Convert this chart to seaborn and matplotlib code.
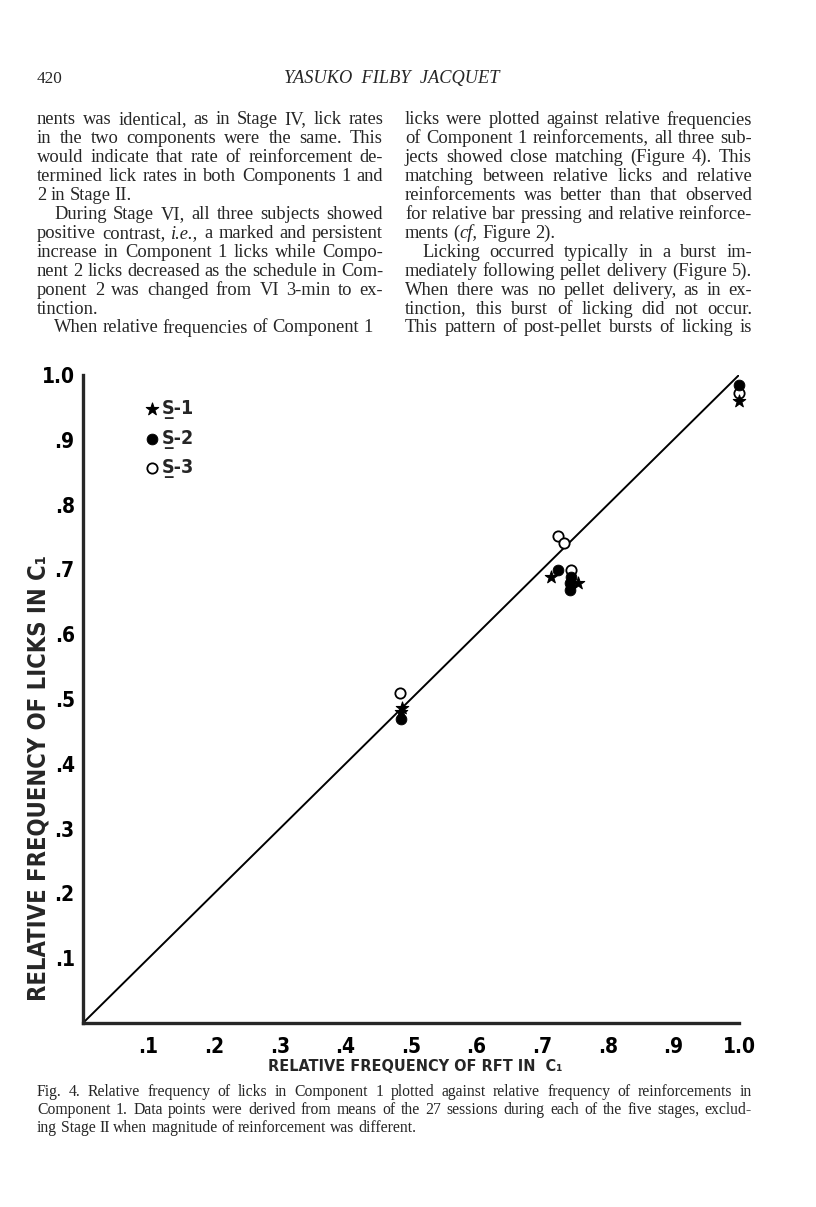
import matplotlib
matplotlib.use('Agg')
import matplotlib.pyplot as plt
from matplotlib import font_manager
import seaborn as sns

# relative frequency of RFT in C1 (x) and relative frequency of licks in C1 (y)
s1_rft = [0.485, 0.487, 0.713, 0.755, 1.0]
s1_licks = [0.480, 0.486, 0.688, 0.679, 0.960]
s2_rft = [0.485, 0.724, 0.744, 0.742, 0.742, 1.0]
s2_licks = [0.469, 0.699, 0.688, 0.679, 0.668, 0.985]
s3_rft = [0.483, 0.724, 0.733, 0.744, 1.0]
s3_licks = [0.509, 0.752, 0.741, 0.699, 0.972]
matching = [0.0, 1.0]

tick_vals = [.1, .2, .3, .4, .5, .6, .7, .8, .9, 1.0]
tick_labels = ['.1', '.2', '.3', '.4', '.5', '.6', '.7', '.8', '.9', '1.0']

left_col = [
    "nents was identical, as in Stage IV, lick rates",
    "in the two components were the same. This",
    "would indicate that rate of reinforcement de-",
    "termined lick rates in both Components 1 and",
    "2 in Stage II.",
    "  During Stage VI, all three subjects showed",
    "positive contrast, *i.e., a marked and persistent",
    "increase in Component 1 licks while Compo-",
    "nent 2 licks decreased as the schedule in Com-",
    "ponent 2 was changed from VI 3-min to ex-",
    "tinction.",
    "  When relative frequencies of Component 1",
]
right_col = [
    "licks were plotted against relative frequencies",
    "of Component 1 reinforcements, all three sub-",
    "jects showed close matching (Figure 4). This",
    "matching between relative licks and relative",
    "reinforcements was better than that observed",
    "for relative bar pressing and relative reinforce-",
    "ments (*cf, Figure 2).",
    "  Licking occurred typically in a burst im-",
    "mediately following pellet delivery (Figure 5).",
    "When there was no pellet delivery, as in ex-",
    "tinction, this burst of licking did not occur.",
    "This pattern of post-pellet bursts of licking is",
]
caption = [
    "Fig. 4. Relative frequency of licks in Component 1 plotted against relative frequency of reinforcements in",
    "Component 1. Data points were derived from means of the 27 sessions during each of the five stages, exclud-",
    "ing Stage II when magnitude of reinforcement was different.",
]
# lines that end a paragraph are not justified
left_last = {4, 10, 11}
right_last = {6}
cap_last = {2}

sns.set_style('white')

# condensed bold sans for the figure lettering (falls back to Roboto bold)
cond = dict(family='Roboto', weight='bold')
for f in font_manager.fontManager.ttflist:
    w = f.weight if isinstance(f.weight, int) else font_manager.weight_dict.get(f.weight, 400)
    if w >= 600 and ('ondensed' in f.name or 'Narrow' in f.name or 'condensed' in str(f.stretch)):
        cond = dict(fname=f.fname)
        break

W, H = 816, 1207
fig = plt.figure(figsize=(W / 100, H / 100), dpi=100)
renderer = fig.canvas.get_renderer()
serif = 'Liberation Serif'


def put_line(text, x0, y, width, justify, size):
    indent = 0
    if text.startswith('  '):
        indent = 17
        text = text.strip()
    groups = []
    for word in text.split(' '):
        parts = word.split('*')
        grp = []
        for k, p in enumerate(parts):
            if p:
                t = fig.text(0, 1 - y / H, p, family=serif, size=size,
                             style='italic' if k > 0 else 'normal', va='center', ha='left')
                grp.append((t, t.get_window_extent(renderer).width))
        groups.append(grp)
    widths = [sum(w for _, w in g) for g in groups]
    if justify and len(groups) > 1:
        gap = (width - indent - sum(widths)) / (len(groups) - 1)
    else:
        gap = size * 0.33
    x = x0 + indent
    for g in groups:
        for t, w in g:
            t.set_x(x / W)
            x += w
        x += gap


for i, s in enumerate(left_col):
    put_line(s, 37, 120 + i * 18.9, 346, i not in left_last, 13.3)
for i, s in enumerate(right_col):
    put_line(s, 405, 120 + i * 18.9, 347, i not in right_last, 13.3)
for i, s in enumerate(caption):
    put_line(s, 37, 1092 + i * 18, 715, i not in cap_last, 11.3)

fig.text(37 / W, 1 - 79 / H, '420', family=serif, size=12.4, va='center')
fig.text(392 / W, 1 - 79 / H, 'YASUKO  FILBY  JACQUET', family=serif,
         style='italic', size=13.2, va='center', ha='center')

ax = fig.add_axes([83 / W, 184 / H, 656 / W, 648 / H])

sns.lineplot(x=matching, y=matching, color='black', lw=1.4, ax=ax)
sns.scatterplot(x=s3_rft, y=s3_licks, marker='o', s=55, facecolor='white',
                edgecolor='black', linewidth=1.3, label='S\u0332-3', ax=ax, zorder=3, clip_on=False)
sns.scatterplot(x=s2_rft, y=s2_licks, marker='o', s=60, color='black',
                edgecolor='black', label='S\u0332-2', ax=ax, zorder=4, clip_on=False)
sns.scatterplot(x=s1_rft, y=s1_licks, marker='*', s=90, color='black',
                edgecolor='black', label='S\u0332-1', ax=ax, zorder=5, clip_on=False)

ax.set_xlim(0, 1)
ax.set_ylim(0, 1)
sns.despine(ax=ax)
for side in ['left', 'bottom']:
    ax.spines[side].set_linewidth(2.4)
ax.set_xticks(tick_vals)
ax.set_xticklabels(tick_labels)
ax.set_yticks(tick_vals)
ax.set_yticklabels(tick_labels)
ax.tick_params(direction='in', length=11, width=1.8, colors='black')
ax.tick_params(axis='x', pad=10)
ax.tick_params(axis='y', pad=6)
for lab in ax.get_xticklabels() + ax.get_yticklabels():
    lab.set_fontproperties(dict(cond, size=15))

ax.set_xlabel('RELATIVE FREQUENCY OF RFT IN  C\u2081', fontproperties=dict(cond, size=11.6))
ax.set_ylabel('RELATIVE FREQUENCY OF LICKS IN C\u2081', fontproperties=dict(cond, size=17))
ax.xaxis.set_label_coords(0.506, -0.056)
ax.yaxis.set_label_coords(-0.050, 0.378)

handles, labels = ax.get_legend_handles_labels()
leg = ax.legend(handles[::-1], labels[::-1], loc='upper left', bbox_to_anchor=(0.064, 0.975),
                frameon=False, handletextpad=-0.5, labelspacing=0.5, borderaxespad=0,
                prop=dict(cond, size=14))

fig.savefig('out.png', dpi=100, facecolor='white')
